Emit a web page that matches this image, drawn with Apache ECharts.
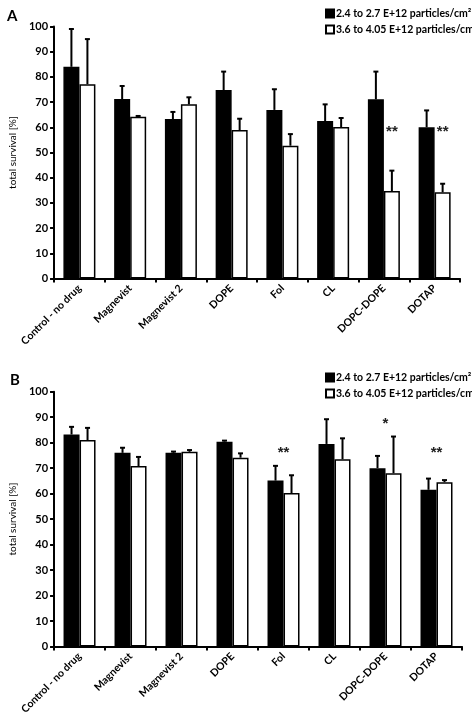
<!DOCTYPE html>
<html>
<head>
<meta charset="utf-8">
<script src="https://cdn.jsdelivr.net/npm/echarts@6/dist/echarts.min.js"></script>
<style>
html,body{margin:0;padding:0;background:#fff;}
#chart{width:472px;height:717px;}
</style>
</head>
<body>
<div id="chart"></div>
<script>
// ---- data ----
var categories = ['Control - no drug','Magnevist','Magnevist 2','DOPE','Fol','CL','DOPC-DOPE','DOTAP'];
var yTicks = [0,10,20,30,40,50,60,70,80,90,100];
var seriesNames = ['2.4 to 2.7 E+12 particles/cm\u00B2','3.6 to 4.05 E+12 particles/cm\u00B2'];

// Panel A
var lowA     = [84.0, 71.2, 63.3, 74.8, 66.9, 62.5, 71.1, 60.0];
var lowErrA  = [15.0, 5.2, 2.8, 7.3, 8.2, 6.6, 11.0, 6.7];
var highA    = [77.1, 64.2, 69.1, 58.9, 52.7, 60.1, 34.7, 34.2];
var highErrA = [17.9, 0.3, 2.8, 4.5, 4.6, 3.6, 8.1, 3.4];
var starsA   = ['', '', '', '', '', '', '**', '**'];
var starYA   = [0, 0, 0, 0, 0, 0, 58.0, 58.0];

// Panel B
var lowB     = [83.2, 76.0, 76.0, 80.4, 65.1, 79.5, 70.0, 61.5];
var lowErrB  = [3.0, 2.0, 0.5, 0.4, 5.8, 9.7, 4.8, 4.4];
var highB    = [81.0, 70.8, 76.4, 74.1, 60.2, 73.5, 68.0, 64.5];
var highErrB = [4.8, 3.6, 0.7, 1.7, 7.0, 8.2, 14.4, 0.8];
var starsB   = ['', '', '', '', '**', '', '*', '**'];
var starYB   = [0, 0, 0, 0, 76.0, 0, 87.5, 76.0];

// ---- chart ----
var FONT = 'Lato, "Open Sans", sans-serif';
var BW = 16;

function errRender(offset){
  return function(params, api){
    var x = api.value(0), v = api.value(1), e = api.value(2);
    var p0 = api.coord([x, v]);
    var p1 = api.coord([x, v + e]);
    var cx = p0[0] + offset;
    return {type:'group', children:[
      {type:'line', shape:{x1:cx, y1:p0[1], x2:cx, y2:p1[1]}, style:{stroke:'#000', lineWidth:2}},
      {type:'line', shape:{x1:cx-2.5, y1:p1[1], x2:cx+2.5, y2:p1[1]}, style:{stroke:'#000', lineWidth:2}}
    ]};
  };
}
var starsLookup = {};
function starRender(offset){
  return function(params, api){
    var x = api.value(0), y = api.value(1);
    var t = starsLookup[params.seriesIndex][params.dataIndex];
    var p = api.coord([x, y]);
    return {type:'text', x:p[0]+offset, y:p[1], style:{text:t, fill:'#222', font:'bold 15px "Liberation Sans", sans-serif', align:'center', verticalAlign:'middle'}};
  };
}

function makeAxes(gi){
  return {
    x: {
      type:'category', data:categories, gridIndex:gi,
      axisLine:{lineStyle:{color:'#000', width:2}},
      axisTick:{show:true, alignWithLabel:false, length:4, lineStyle:{color:'#000', width:2}},
      axisLabel:{rotate:45, interval:0, color:'#000', fontFamily:FONT, fontWeight:'bold', fontSize:10.5, margin:8}
    },
    y: {
      type:'value', gridIndex:gi, min:0, max:100, interval:10,
      name:'total survival [%]', nameLocation:'middle', nameGap:26,
      nameTextStyle:{fontFamily:FONT, fontSize:10, color:'#000'},
      axisLine:{show:true, lineStyle:{color:'#000', width:2}},
      axisTick:{show:true, length:4, lineStyle:{color:'#000', width:2}},
      axisLabel:{color:'#000', fontFamily:FONT, fontWeight:'bold', fontSize:11, margin:6},
      splitLine:{show:false}
    }
  };
}
var aA = makeAxes(0), aB = makeAxes(1);

function barSeries(name, data, xi, black){
  return {
    name:name, type:'bar', xAxisIndex:xi, yAxisIndex:xi, data:data,
    barWidth:BW, barGap:'0%',
    itemStyle:{color: black ? '#000' : '#fff', borderColor:'#000', borderWidth:1.5},
    emphasis:{disabled:true}
  };
}
function errSeries(vals, errs, xi, offset){
  return {
    type:'custom', xAxisIndex:xi, yAxisIndex:xi, renderItem:errRender(offset),
    data: vals.map(function(v,i){ return [i, v, errs[i]]; }), z:5, silent:true
  };
}
function starSeries(stars, ys, xi, offset){
  var data = stars.map(function(s,i){ return [i, ys[i]]; });
  return {type:'custom', xAxisIndex:xi, yAxisIndex:xi, renderItem:starRender(offset), data:data, z:6, silent:true};
}

var series = [
  barSeries(seriesNames[0], lowA, 0, true),
  barSeries(seriesNames[1], highA, 0, false),
  errSeries(lowA, lowErrA, 0, -BW/2),
  errSeries(highA, highErrA, 0, BW/2),
  starSeries(starsA, starYA, 0, BW/2),
  barSeries(seriesNames[0], lowB, 1, true),
  barSeries(seriesNames[1], highB, 1, false),
  errSeries(lowB, lowErrB, 1, -BW/2),
  errSeries(highB, highErrB, 1, BW/2),
  starSeries(starsB, starYB, 1, 0)
];
starsLookup[4] = starsA;
starsLookup[9] = starsB;

var legendCommon = {
  orient:'vertical', icon:'rect', itemWidth:8, itemHeight:8, itemGap:5,
  textStyle:{fontFamily:FONT, fontWeight:'bold', fontSize:10.5, color:'#000', padding:[4,0,0,-3]},
  data:seriesNames, selectedMode:false
};

var option = {
  animation:false,
  backgroundColor:'#fff',
  title:[
    {text:'A', left:2, top:4, textStyle:{fontFamily:FONT, fontWeight:'bold', fontSize:15, color:'#000'}},
    {text:'B', left:5, top:368, textStyle:{fontFamily:FONT, fontWeight:'bold', fontSize:15, color:'#000'}}
  ],
  legend:[
    Object.assign({left:320, top:3}, legendCommon),
    Object.assign({left:320, top:367}, legendCommon)
  ],
  grid:[
    {left:39, top:26.5, width:421, height:252, containLabel:false},
    {left:40, top:391.7, width:422, height:255, containLabel:false}
  ],
  xAxis:[aA.x, aB.x],
  yAxis:[aA.y, aB.y],
  series:series
};

var chart = echarts.init(document.getElementById('chart'), null, {renderer:'canvas'});
chart.setOption(option);
</script>
</body>
</html>
